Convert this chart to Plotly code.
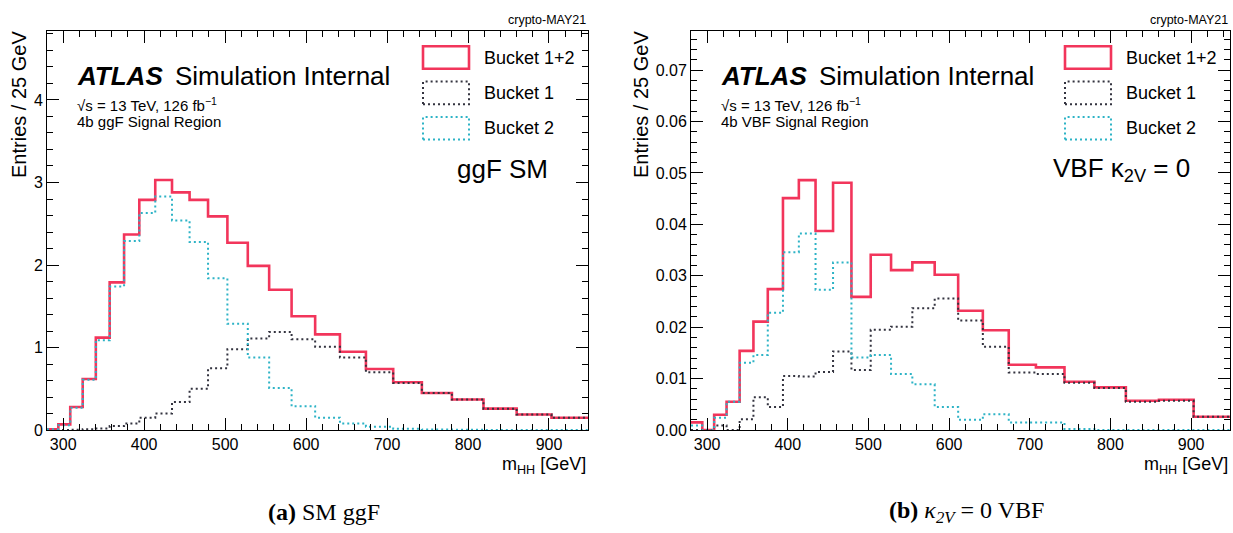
import plotly.graph_objects as go

W, H = 1233, 533

# m_HH bin edges [GeV]
mhh_edges = [280.0, 294.0, 308.7, 324.1, 340.3, 357.4, 375.2, 394.0, 413.7,
             434.4, 456.1, 478.9, 502.8, 528.0, 554.4, 582.1, 611.2, 641.8,
             673.9, 707.6, 743.0, 780.1, 819.1, 860.1, 903.1, 948.2]

# (a) SM ggF signal
ggf_bucket12 = [0.01, 0.07, 0.28, 0.62, 1.12, 1.79, 2.37, 2.79, 3.03, 2.88,
                2.79, 2.59, 2.27, 1.99, 1.70, 1.38, 1.16, 0.95, 0.74, 0.58,
                0.45, 0.37, 0.26, 0.19, 0.15]
ggf_bucket1 = [0.0, 0.0, 0.004, 0.01, 0.02, 0.05, 0.08, 0.15, 0.20, 0.34,
               0.50, 0.75, 0.98, 1.11, 1.19, 1.10, 1.01, 0.88, 0.70, 0.57,
               0.45, 0.37, 0.26, 0.19, 0.15]
ggf_bucket2 = [0.01, 0.06, 0.27, 0.61, 1.09, 1.74, 2.29, 2.63, 2.83, 2.54,
               2.28, 1.84, 1.29, 0.88, 0.51, 0.29, 0.15, 0.08, 0.04, 0.015,
               0.006, 0.004, 0.002, 0.001, 0.001]

# (b) VBF kappa_2V = 0 signal
vbf_bucket12 = [0.0015, 0.0, 0.0030, 0.0055, 0.0154, 0.0211, 0.0274, 0.0451,
                0.0486, 0.0387, 0.0481, 0.0259, 0.0341, 0.0311, 0.0326, 0.0302,
                0.0232, 0.0194, 0.0127, 0.0122, 0.0094, 0.0083, 0.0057, 0.0059,
                0.0026]
vbf_bucket1 = [0.0, 0.0, 0.0009, 0.0, 0.0021, 0.0064, 0.0045, 0.0105, 0.0104,
               0.0113, 0.0153, 0.0117, 0.0195, 0.0201, 0.0237, 0.0256, 0.0213,
               0.0162, 0.0112, 0.0109, 0.0092, 0.0082, 0.0055, 0.0057, 0.0026]
vbf_bucket2 = [0.0009, 0.0, 0.0024, 0.0055, 0.0131, 0.0146, 0.0228, 0.0346,
               0.0382, 0.0273, 0.0326, 0.0141, 0.0146, 0.0109, 0.0089, 0.0045,
               0.0020, 0.0031, 0.0015, 0.0015, 0.0002, 0.0, 0.0, 0.0, 0.0]

legend_labels = ["Bucket 1+2", "Bucket 1", "Bucket 2"]
x_ticks = [300, 400, 500, 600, 700, 800, 900]

RED = "#f2355b"
DARK = "#33333f"
TEAL = "#2db3c6"
DOTS = "2px,3px"
SANS = "Liberation Sans, Arial, sans-serif"
SERIF = "Liberation Serif, Times New Roman, serif"


def px(x):
    return x / W


def py(y):
    return 1 - y / H


def step(values):
    return list(values) + [values[-1]]


fig = go.Figure()

panels = [
    dict(xa="x", ya="y", series=[ggf_bucket12, ggf_bucket1, ggf_bucket2]),
    dict(xa="x2", ya="y2", series=[vbf_bucket12, vbf_bucket1, vbf_bucket2]),
]
styles = [dict(color=RED, width=2.6, dash="solid"),
          dict(color=DARK, width=2, dash=DOTS),
          dict(color=TEAL, width=2, dash=DOTS)]

for p in panels:
    for vals, st, name in zip(p["series"], styles, legend_labels):
        fig.add_trace(go.Scatter(
            x=mhh_edges, y=step(vals), mode="lines", line_shape="hv",
            line=st, name=name, showlegend=False,
            xaxis=p["xa"], yaxis=p["ya"], hoverinfo="skip"))

frame_top, frame_bot = 32, 437.5
left_frame = (47, 588)
right_frame = (691, 1230)

common_axis = dict(
    showline=True, linecolor="black", linewidth=1, mirror="allticks",
    ticks="inside", ticklen=12, tickwidth=1, tickcolor="black",
    showgrid=False, zeroline=False,
    tickfont=dict(family=SANS, size=16, color="black"),
)

xax = dict(common_axis, range=[280, 948.2], tickvals=x_ticks,
           minor=dict(ticks="inside", ticklen=6, tickwidth=1, tickcolor="black",
                      dtick=20, tick0=0, showgrid=False))

fig.update_layout(
    width=W, height=H,
    margin=dict(l=0, r=0, t=0, b=0),
    plot_bgcolor="white", paper_bgcolor="white",
    xaxis=dict(xax, domain=[px(left_frame[0]), px(left_frame[1])], anchor="y"),
    xaxis2=dict(xax, domain=[px(right_frame[0]), px(right_frame[1])], anchor="y2"),
    yaxis=dict(common_axis, domain=[py(frame_bot), py(frame_top)], anchor="x",
               range=[0, 4.83], dtick=1, tick0=0,
               minor=dict(ticks="inside", ticklen=6, tickwidth=1,
                          tickcolor="black", dtick=0.2, showgrid=False)),
    yaxis2=dict(common_axis, domain=[py(frame_bot), py(frame_top)], anchor="x2",
                range=[0, 0.0775], dtick=0.01, tick0=0, tickformat=".2f",
                minor=dict(ticks="inside", ticklen=6, tickwidth=1,
                           tickcolor="black", dtick=0.002, showgrid=False)),
)

annotations = []
shapes = []


def text(x, y, s, size, xanchor="left", yanchor="middle", family=SANS, angle=0):
    annotations.append(dict(
        x=px(x), y=py(y), xref="paper", yref="paper", text=s, showarrow=False,
        xanchor=xanchor, yanchor=yanchor, textangle=angle,
        font=dict(family=family, size=size, color="black")))


for (x0, x1), ytitle_x, region, proc, caption in [
    (left_frame, 19, "4b ggF Signal Region", "ggF SM", "<b>(a)</b> SM ggF"),
    (right_frame, 641, "4b VBF Signal Region", "VBF κ<sub>2V</sub> = 0",
     "<b>(b)</b> <i>κ</i><sub><i>2V</i></sub> = 0 VBF"),
]:
    # ATLAS label block
    text(x0 + 28, 77, "<b><i>ATLAS</i></b>", 26)
    text(x0 + 126, 77, "Simulation Internal", 26)
    text(x0 + 28, 106, "√s = 13 TeV, 126 fb<sup>−1</sup>", 15)
    text(x0 + 28, 124, region, 15)
    text(x1 - 38, 172, proc, 26, xanchor="right")
    text(x1, 20, "crypto-MAY21", 12.5, xanchor="right")
    # axis titles
    text(ytitle_x, frame_top - 2, "Entries / 25 GeV", 20, xanchor="center",
         yanchor="top", angle=-90)
    text(x1, 474, "m<sub>HH</sub> [GeV]", 18, xanchor="right")
    # sub-figure caption
    text((x0 + x1) / 2 + 6, 521, caption, 24, xanchor="center", family=SERIF)

    # legend boxes
    bx0, bx1 = x1 - 165, x1 - 119
    for i, (st, label) in enumerate(zip(styles, legend_labels)):
        yc = 58.5 + 36 * i
        shapes.append(dict(
            type="rect", xref="paper", yref="paper",
            x0=px(bx0), x1=px(bx1), y0=py(yc + 11.5), y1=py(yc - 11.5),
            line=dict(color=st["color"], width=st["width"], dash=st["dash"]),
            fillcolor="rgba(0,0,0,0)"))
        text(x1 - 106, yc, label, 18)

fig.update_layout(annotations=annotations, shapes=shapes)

fig.write_html("out.html")
